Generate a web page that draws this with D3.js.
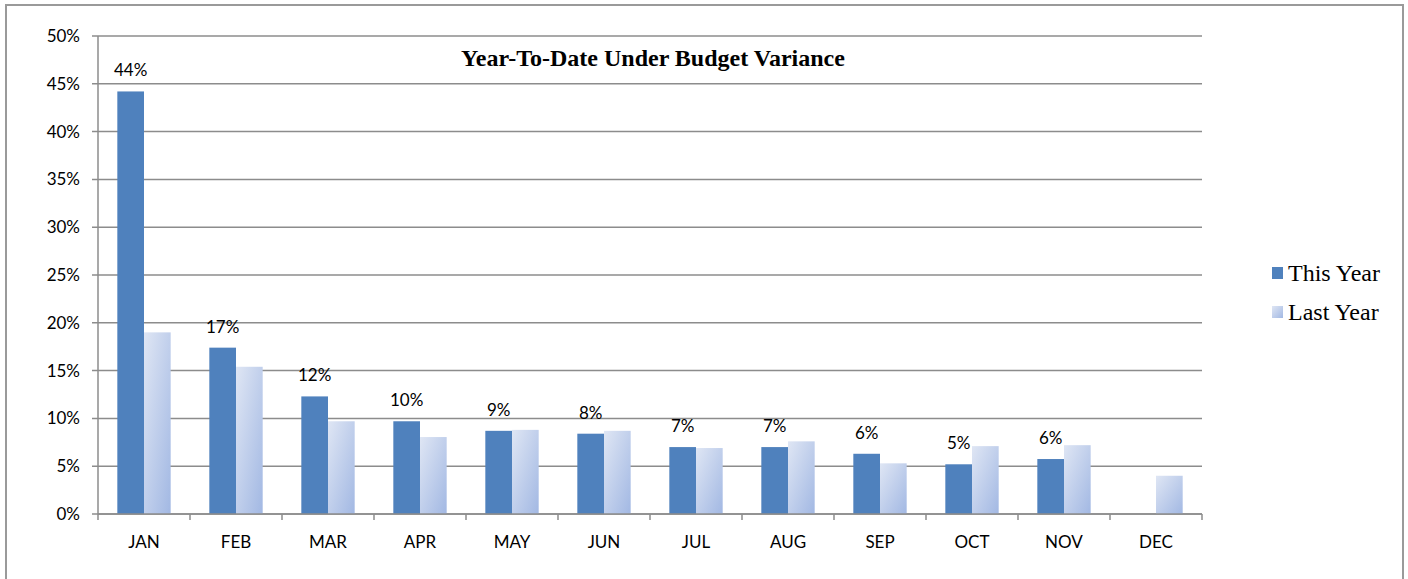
<html>
<head>
<style>
  body { margin: 0; background: #fff; }
</style>
</head>
<body>
<svg width="1408" height="579" class="chart" font-family="Lato, 'Noto Sans', sans-serif"></svg>
<script src="https://d3js.org/d3.v7.min.js" charset="utf-8"></script>
<script>
    // values, in percent
    months = ["JAN","FEB","MAR","APR","MAY","JUN","JUL","AUG","SEP","OCT","NOV","DEC"]
    thisYear = [44.2, 17.4, 12.3, 9.7, 8.7, 8.4, 7.0, 7.0, 6.3, 5.2, 5.75, null]
    lastYear = [19.0, 15.4, 9.7, 8.05, 8.8, 8.7, 6.9, 7.6, 5.3, 7.1, 7.2, 4.0]
    yTicks = [0, 5, 10, 15, 20, 25, 30, 35, 40, 45, 50]
    seriesNames = ["This Year", "Last Year"]

    var svg = d3.select(".chart")
    var plotL = 98, plotR = 1202, plotT = 36, plotB = 514

    // frame
    svg.append("rect").attr("x", 6).attr("y", 5).attr("width", 1397).attr("height", 580)
        .attr("fill", "none").attr("stroke", "#9a9a9a").attr("stroke-width", 2)

    var defs = svg.append("defs")
    var grad = defs.append("linearGradient").attr("id", "lastGrad")
        .attr("x1", 0).attr("y1", 0).attr("x2", 1).attr("y2", 1)
    grad.append("stop").attr("offset", "0%").attr("stop-color", "#dfe6f4")
    grad.append("stop").attr("offset", "100%").attr("stop-color", "#a2b8e3")

    var x = d3.scaleBand().domain(months).range([plotL, plotR]).paddingInner(0.42).paddingOuter(0.21)
    var xCat = d3.scaleBand().domain(months).range([plotL, plotR])
    var y = d3.scaleLinear().domain([0, 50]).range([plotB, plotT])

    // gridlines
    svg.selectAll(".grid").data(yTicks).enter().append("line")
        .attr("x1", plotL - 6).attr("x2", plotR)
        .attr("y1", function(d){ return y(d) }).attr("y2", function(d){ return y(d) })
        .attr("stroke", "#8c8c8c").attr("stroke-width", 1.5)

    // y labels
    svg.selectAll(".ylab").data(yTicks).enter().append("text")
        .attr("x", 80).attr("y", function(d){ return y(d) + 6 })
        .attr("text-anchor", "end").attr("font-size", 17).attr("fill", "#000")
        .text(function(d){ return d + "%" })

    var bw = x.bandwidth() / 2

    svg.selectAll(".this").data(months).enter().filter(function(d, i){ return thisYear[i] != null })
        .append("rect")
        .attr("x", function(d){ return x(d) })
        .attr("y", function(d){ return y(thisYear[months.indexOf(d)]) })
        .attr("width", bw)
        .attr("height", function(d){ return plotB - y(thisYear[months.indexOf(d)]) })
        .attr("fill", "#4f81bd")

    svg.selectAll(".last").data(months).enter().append("rect")
        .attr("x", function(d){ return x(d) + bw })
        .attr("y", function(d, i){ return y(lastYear[i]) })
        .attr("width", bw)
        .attr("height", function(d, i){ return plotB - y(lastYear[i]) })
        .attr("fill", "url(#lastGrad)")

    // data labels on this year
    svg.selectAll(".lab").data(months).enter().filter(function(d, i){ return thisYear[i] != null })
        .append("text")
        .attr("x", function(d){ return x(d) + bw / 2 })
        .attr("y", function(d){ return y(thisYear[months.indexOf(d)]) - 15 })
        .attr("text-anchor", "middle").attr("font-size", 17).attr("fill", "#000")
        .text(function(d){ return Math.round(thisYear[months.indexOf(d)]) + "%" })

    // axes lines
    svg.append("line").attr("x1", plotL).attr("x2", plotL).attr("y1", plotT).attr("y2", plotB)
        .attr("stroke", "#8c8c8c").attr("stroke-width", 1.5)
    svg.append("line").attr("x1", plotL).attr("x2", plotR).attr("y1", plotB).attr("y2", plotB)
        .attr("stroke", "#8c8c8c").attr("stroke-width", 1.5)
    var bounds = months.map(function(d){ return xCat(d) }).concat([plotR])
    svg.selectAll(".xt").data(bounds).enter().append("line")
        .attr("x1", function(d){ return d }).attr("x2", function(d){ return d })
        .attr("y1", plotB).attr("y2", plotB + 6)
        .attr("stroke", "#8c8c8c").attr("stroke-width", 1.5)

    svg.selectAll(".xlab").data(months).enter().append("text")
        .attr("x", function(d){ return xCat(d) + xCat.bandwidth() / 2 })
        .attr("y", 548).attr("text-anchor", "middle").attr("font-size", 17).attr("fill", "#000")
        .text(function(d){ return d })

    // title
    svg.append("text").attr("x", 653).attr("y", 66).attr("text-anchor", "middle")
        .attr("font-family", "'Liberation Serif', 'Times New Roman', serif")
        .attr("font-weight", "bold").attr("font-size", 24).text("Year-To-Date Under Budget Variance")

    // legend
    var leg = svg.selectAll(".leg").data(seriesNames).enter().append("g")
        .attr("transform", function(d, i){ return "translate(1272," + (267 + i * 39) + ")" })
    leg.append("rect").attr("width", 11).attr("height", 12)
        .attr("fill", function(d, i){ return i == 0 ? "#4f81bd" : "url(#lastGrad)" })
    leg.append("text").attr("x", 16).attr("y", 14)
        .attr("font-family", "'Liberation Serif', 'Times New Roman', serif")
        .attr("font-size", 24).text(function(d){ return d })
</script>
</body>
</html>
